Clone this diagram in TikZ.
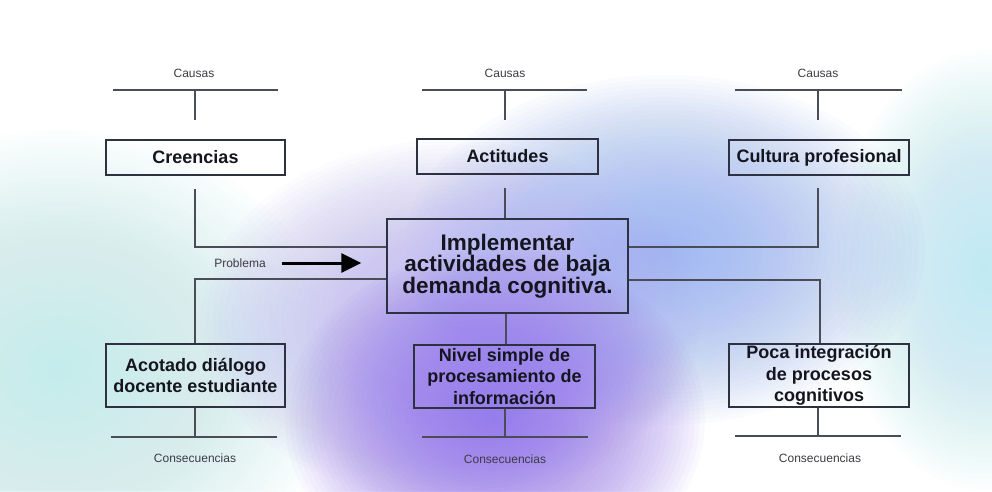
\documentclass[tikz,border=0pt]{standalone}
\usepackage{fontspec}
\setmainfont{Liberation Sans}
\usetikzlibrary{calc,arrows.meta}
\definecolor{boxc}{HTML}{2E3140}
\definecolor{linec}{HTML}{4A4D58}
\definecolor{txt}{HTML}{15151F}
\definecolor{smallc}{HTML}{3C3C44}
\definecolor{purp}{HTML}{9272EC}
\definecolor{blu}{HTML}{95B0F2}
\definecolor{cyl}{HTML}{C4ECEC}
\definecolor{cyr}{HTML}{BDEAF3}
\definecolor{lav}{HTML}{B9B0F1}
\newcommand\glowblob[5]{%
  \foreach \k in {1,...,40}{%
    \fill[#1, opacity=0.04] (#2,#3) ellipse [x radius={#4*\k/40}, y radius={#5*\k/40}];}}
\begin{document}
\begin{tikzpicture}[x=1pt,y=-1pt,
  box/.style={draw=boxc, line width=1.3pt, inner sep=0pt, align=center, text=txt,
    font=\fontsize{18}{21.5}\selectfont\bfseries},
  small/.style={text=smallc, inner sep=0pt, font=\fontsize{12}{14}\selectfont},
  conn/.style={draw=linec, line width=1.4pt},
  bigarrow/.style={draw=black, line width=3pt, -{Triangle[length=20pt,width=19pt]}}]
\useasboundingbox (0,0) rectangle (992,491);
\fill[white] (0,0) rectangle (992,491);
% background glows
\glowblob{cyl}{60}{370}{280}{240}
\glowblob{cyr}{985}{270}{150}{220}
\glowblob{blu}{665}{250}{260}{175}
\glowblob{lav}{450}{320}{250}{180}
\glowblob{purp}{495}{420}{210}{170}

% causes
\node[small] (ca1) at (194,73) {Causas};
\node[small] (ca2) at (505,73) {Causas};
\node[small] (ca3) at (818,73) {Causas};
\coordinate (t1l) at (113,90); \coordinate (t1r) at (278,90); \coordinate (t1m) at (195,90);
\coordinate (t2l) at (422,90); \coordinate (t2r) at (587,90); \coordinate (t2m) at (505,90);
\coordinate (t3l) at (735,90); \coordinate (t3r) at (902,90); \coordinate (t3m) at (818,90);

\node[box, minimum width=179pt, minimum height=35pt] (cre) at (195.5,157.5) {Creencias};
\node[box, minimum width=181pt, minimum height=35pt] (act) at (507.5,156.5) {Actitudes};
\node[box, minimum width=180pt, minimum height=35pt] (cul) at (819,157.5) {Cultura profesional};

\node[box, minimum width=241pt, minimum height=94pt,
  font=\fontsize{22.5}{21.5}\selectfont\bfseries] (main) at (507.5,266)
  {Implementar\\actividades de baja\\demanda cognitiva.};

\node[box, minimum width=179pt, minimum height=63pt] (aco) at (195.5,375.5)
  {Acotado diálogo\\docente estudiante};
\node[box, minimum width=181pt, minimum height=63pt] (niv) at (504.5,376.5)
  {Nivel simple de\\procesamiento de\\información};
\node[box, minimum width=180pt, minimum height=63pt] (poc) at (819,375.5)
  {Poca integración\\de procesos\\cognitivos};

% consequences
\node[small] (co1) at (195,458) {Consecuencias};
\node[small] (co2) at (505,459) {Consecuencias};
\node[small] (co3) at (820,458) {Consecuencias};
\coordinate (b1l) at (111,437); \coordinate (b1r) at (277,437); \coordinate (b1m) at (195,437);
\coordinate (b2l) at (422,437); \coordinate (b2r) at (588,437); \coordinate (b2m) at (505,437);
\coordinate (b3l) at (735,436); \coordinate (b3r) at (901,436); \coordinate (b3m) at (818,436);

% top T-bars
\draw[conn] (t1l) -- (t1r);
\draw[conn] (t1m) -- ($(t1m)+(0,30)$);
\draw[conn] (t2l) -- (t2r);
\draw[conn] (t2m) -- ($(t2m)+(0,30)$);
\draw[conn] (t3l) -- (t3r);
\draw[conn] (t3m) -- ($(t3m)+(0,30)$);

% causes to main
\coordinate (c1s) at (195,189);
\coordinate (c2s) at (505,188);
\coordinate (c3s) at (818,188);
\draw[conn] (c1s) |- ([yshift=19pt]main.west);
\draw[conn] (c2s) -- (main.north -| c2s);
\draw[conn] (c3s) |- ([yshift=19pt]main.east);

% main to consequences
\draw[conn] ([yshift=-13pt]main.west) -| (aco.north -| b1m);
\draw[conn] (main.south -| 506,0) -- (niv.north -| 506,0);
\draw[conn] ([yshift=-14pt]main.east) -| (poc.north -| 820,0);

% bottom T-bars
\draw[conn] (aco.south -| b1m) -- (b1m);
\draw[conn] (b1l) -- (b1r);
\draw[conn] (niv.south -| b2m) -- (b2m);
\draw[conn] (b2l) -- (b2r);
\draw[conn] (poc.south -| b3m) -- (b3m);
\draw[conn] (b3l) -- (b3r);

% problem arrow
\node[small] (prob) at (240,263) {Problema};
\draw[bigarrow, shorten >=25pt] ([xshift=16pt]prob.east) -- (main.west |- prob);
\end{tikzpicture}
\end{document}
